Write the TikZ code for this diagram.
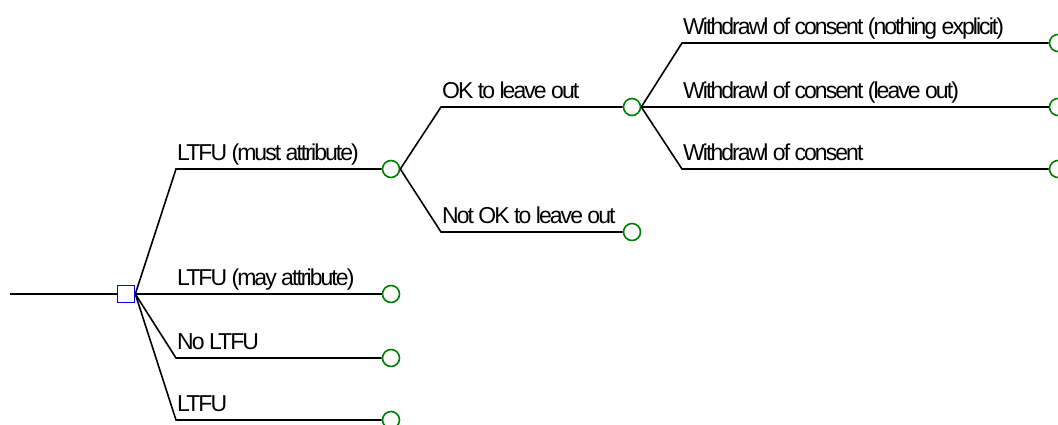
\documentclass[tikz,border=0pt]{standalone}
\usepackage{fontspec}
\setmainfont{Liberation Sans}[LetterSpace=-8.5]
\definecolor{cgreen}{RGB}{0,128,0}
\definecolor{cblue}{RGB}{0,0,255}
\begin{document}
\begin{tikzpicture}[x=1pt,y=-1pt,
  edge/.style={line width=1.6pt, draw=black},
  chance/.style={circle, draw=cgreen, line width=1.6pt, minimum size=17pt, inner sep=0pt, fill=white},
  decision/.style={rectangle, draw=cblue, line width=1.6pt, minimum size=17pt, inner sep=0pt, fill=white},
  lbl/.style={anchor=base west, inner sep=0pt, font=\fontsize{23}{23}\selectfont}]
\useasboundingbox (0,0) rectangle (1058,424);
\clip (0,0) rectangle (1058,424);
% nodes
\coordinate (root) at (10,294);
\node[decision] (sq) at (126,294) {};
\node[chance] (c1) at (391,169) {};
\node[chance] (c2) at (391,294) {};
\node[chance] (c3) at (391,358) {};
\node[chance] (c4) at (391,420) {};
\node[chance] (c5) at (632,107) {};
\node[chance] (c6) at (632,232) {};
\node[chance] (t7) at (1058,43) {};
\node[chance] (t8) at (1058,107) {};
\node[chance] (t9) at (1058,169) {};
% bend points
\coordinate (b1) at (176,169);
\coordinate (b3) at (176,358);
\coordinate (b4) at (176,420);
\coordinate (b5) at (441,107);
\coordinate (b6) at (441,232);
\coordinate (b7) at (682,43);
\coordinate (b9) at (682,169);
% connectors
\draw[edge] (root) -- (sq.west);
\draw[edge] (sq.east) -- (b1) -- (c1.west);
\draw[edge] (sq.east) -- (c2.west);
\draw[edge] (sq.east) -- (b3) -- (c3.west);
\draw[edge] (sq.east) -- (b4) -- (c4.west);
\draw[edge] (c1.east) -- (b5) -- (c5.west);
\draw[edge] (c1.east) -- (b6) -- (c6.west);
\draw[edge] (c5.east) -- (b7) -- (t7.west);
\draw[edge] (c5.east) -- (t8.west);
\draw[edge] (c5.east) -- (b9) -- (t9.west);
% labels
\node[lbl] (l1) at (177,160) {LTFU (must attribute)};
\node[lbl] (l2) at (177,285) {LTFU (may attribute)};
\node[lbl] (l3) at (177,349) {No LTFU};
\node[lbl] (l4) at (177,411) {LTFU};
\node[lbl] (l5) at (442,98) {OK to leave out};
\node[lbl] (l6) at (442,223) {Not OK to leave out};
\node[lbl] (l7) at (683,34) {Withdrawl of consent (nothing explicit)};
\node[lbl] (l8) at (683,98) {Withdrawl of consent (leave out)};
\node[lbl] (l9) at (683,160) {Withdrawl of consent};
\end{tikzpicture}
\end{document}
